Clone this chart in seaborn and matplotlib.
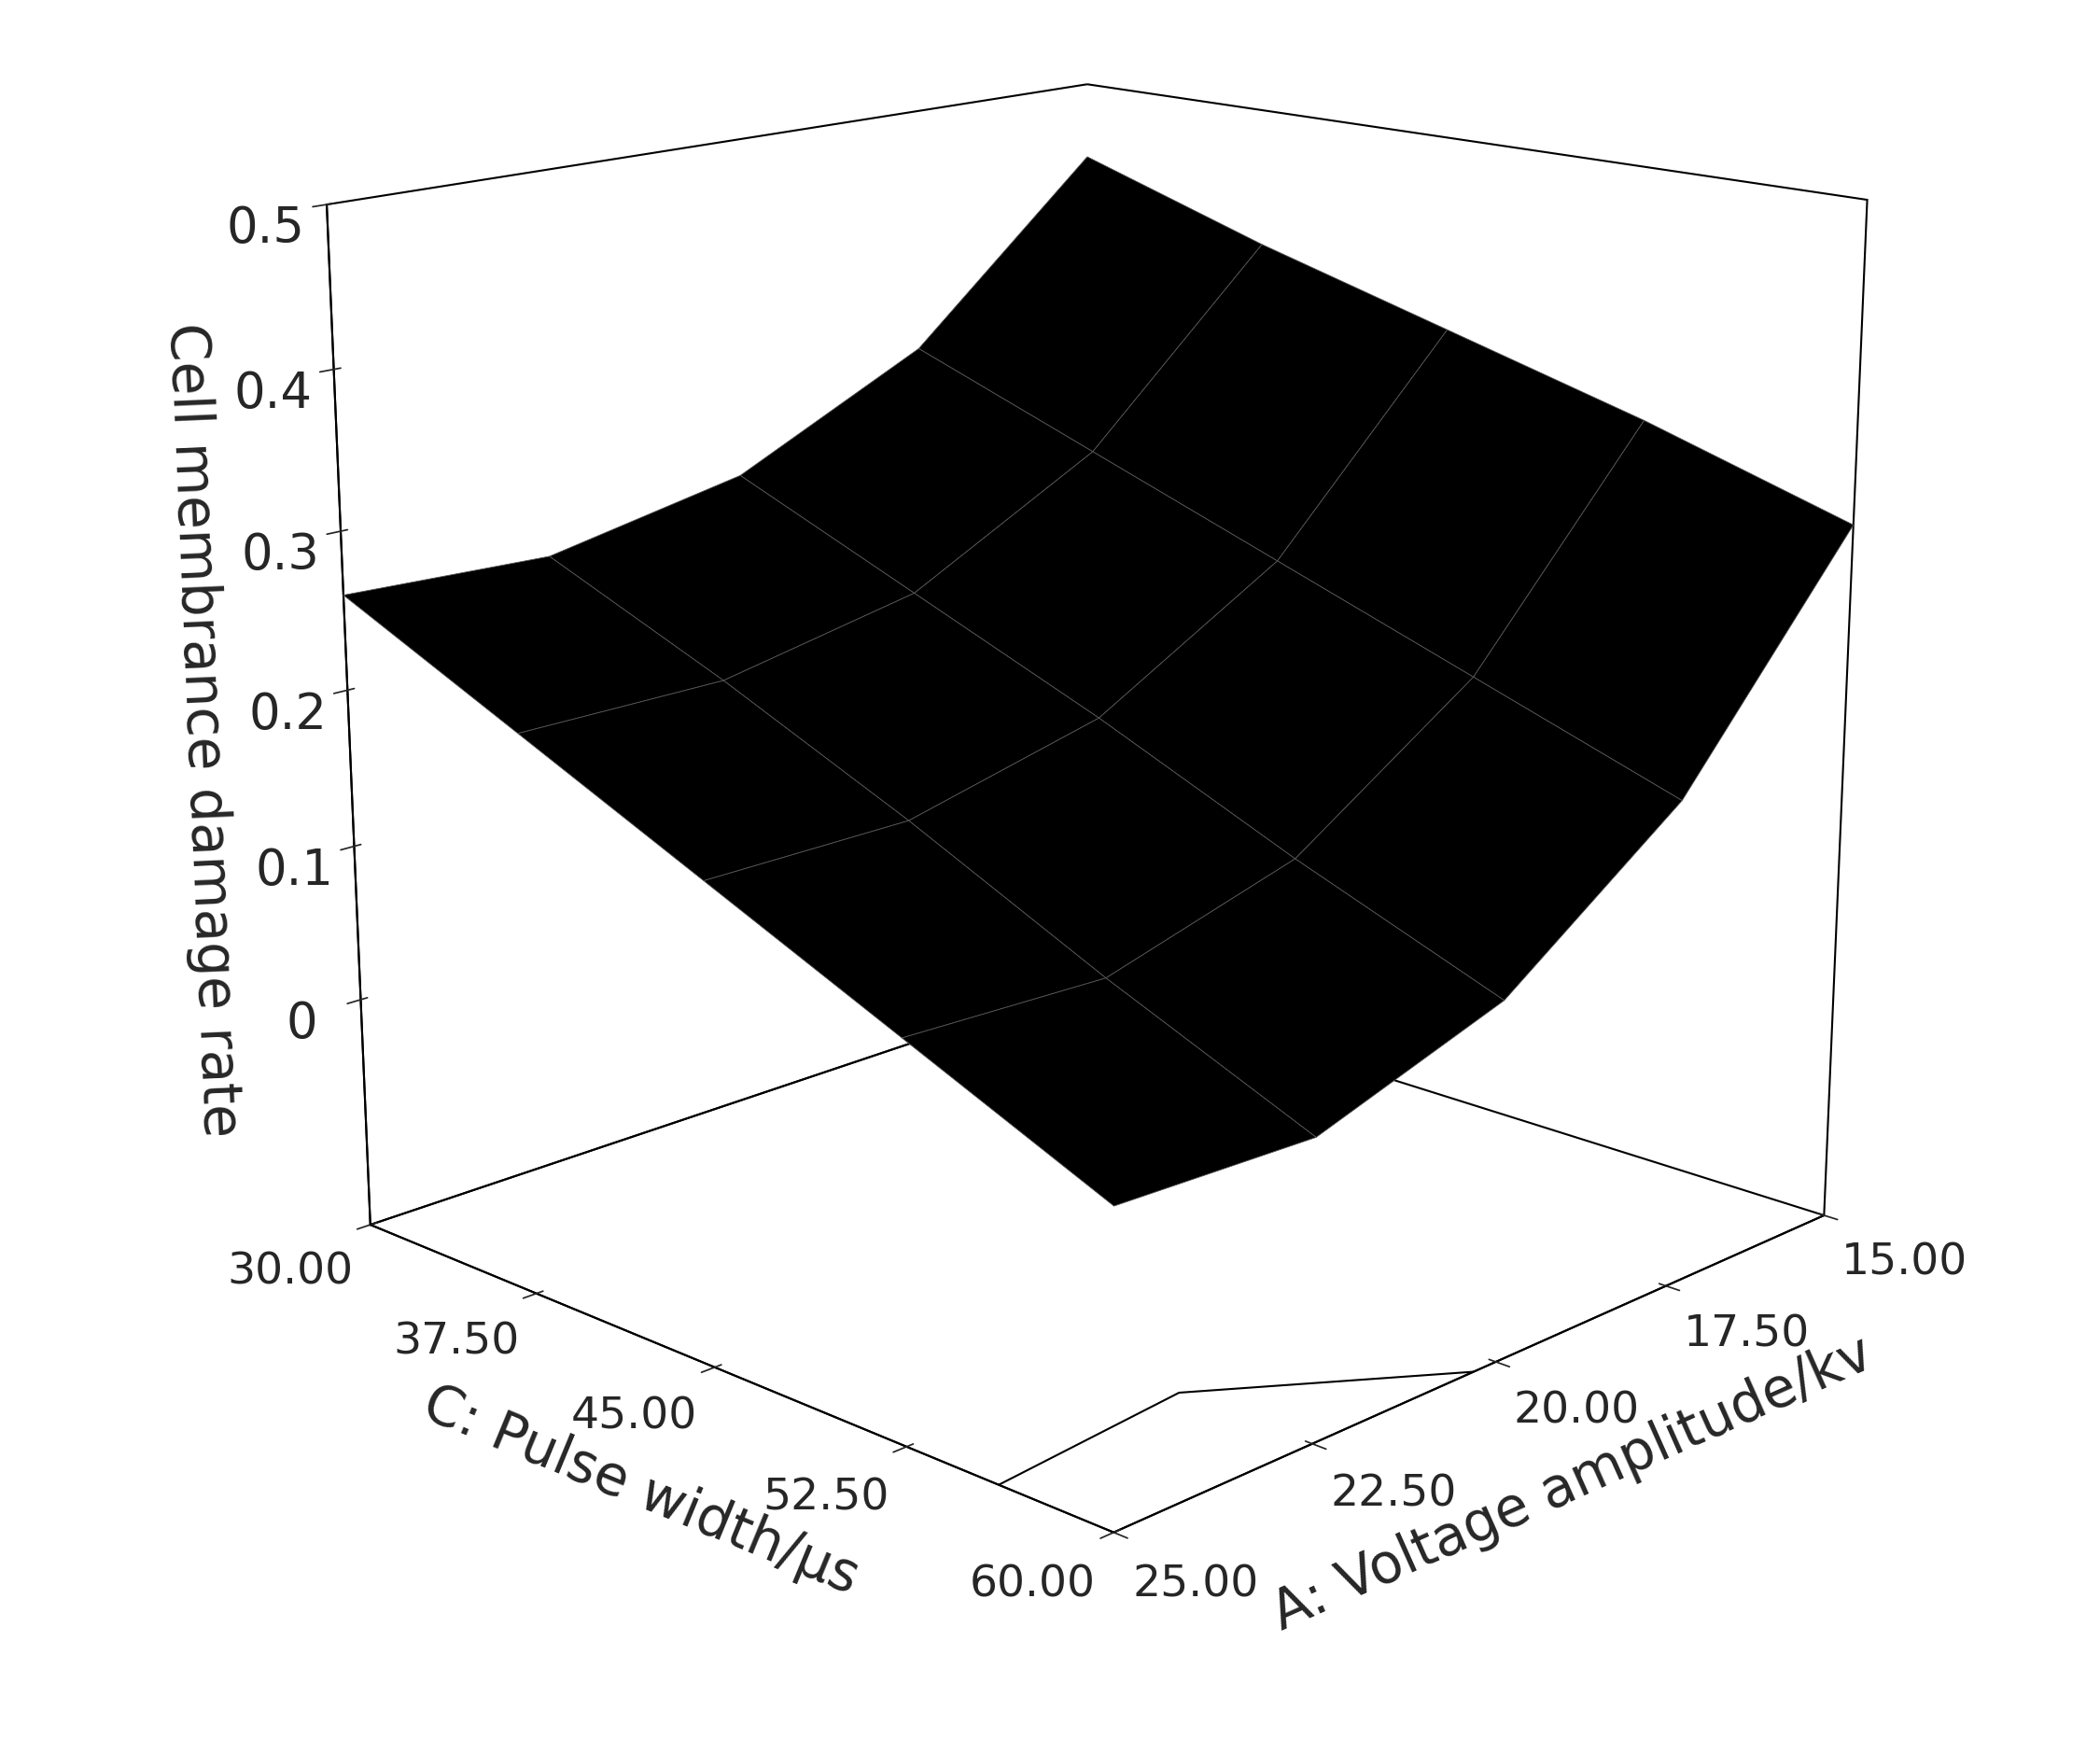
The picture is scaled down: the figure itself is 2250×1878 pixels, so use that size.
import numpy as np
import matplotlib
matplotlib.use("Agg")
import matplotlib.pyplot as plt
import seaborn as sns

sns.set_theme(style="white")
plt.rcParams['font.family'] = ['DejaVu Sans']

A_vals = [15.0, 17.5, 20.0, 22.5, 25.0]
C_vals = [30.0, 37.5, 45.0, 52.5, 60.0]
# rows: A, cols: C  (cell membrane damage rate)
Z_vals = [
    [0.45, 0.41, 0.375, 0.34, 0.30],
    [0.34, 0.295, 0.25, 0.205, 0.16],
    [0.28, 0.23, 0.18, 0.125, 0.075],
    [0.255, 0.205, 0.15, 0.09, 0.035],
    [0.26, 0.205, 0.15, 0.095, 0.04],
]
z_ticks = [0, 0.1, 0.2, 0.3, 0.4, 0.5]
z_tick_labels = ["0", "0.1", "0.2", "0.3", "0.4", "0.5"]
A_ticks = [15.0, 17.5, 20.0, 22.5, 25.0]
C_ticks = [30.0, 37.5, 45.0, 52.5, 60.0]

Ag, Cg = np.meshgrid(A_vals, C_vals, indexing="ij")
Z = np.array(Z_vals)

fig = plt.figure(figsize=(22.5, 18.78), dpi=100)
ax = fig.add_axes([-0.05, -0.02, 1.12, 1.18], projection="3d")
ax.plot_surface(Ag, Cg, Z, color="black", edgecolor="#555555", linewidth=0.6,
                shade=False, antialiased=True)
zfloor = -0.15
ax.contour(Ag, Cg, Z, levels=[0.07], zdir="z", offset=zfloor, colors="black", linewidths=1.5)

ax.set_xlim(15, 25)
ax.set_ylim(30, 60)
ax.set_zlim(zfloor, 0.5)
ax.view_init(elev=16, azim=44)
ax.set_proj_type("persp", focal_length=0.45)
ax.set_box_aspect((1, 1, 1.0), zoom=0.86)

for axis in (ax.xaxis, ax.yaxis, ax.zaxis):
    axis.pane.fill = False
    axis.pane.set_edgecolor("black")
    axis.pane.set_alpha(1)
    axis.pane.set_linewidth(1.5)
    axis.line.set_color("black")
    axis.line.set_linewidth(1.5)
ax.grid(False)

ax.set_xticks(A_ticks)
ax.set_xticklabels([f"{v:.2f}" for v in A_ticks], fontsize=34, ha="left")
ax.set_yticks(C_ticks)
ax.set_yticklabels([f"{v:.2f}" for v in C_ticks], fontsize=34, ha="right")
ax.set_zticks(z_ticks)
ax.set_zticklabels(z_tick_labels, fontsize=38, ha="center")
ax.set_xlabel("A: Voltage amplitude/kv", fontsize=42, labelpad=55)
ax.set_ylabel("C: Pulse width/μs", fontsize=42, labelpad=55)
ax.set_zlabel("Cell membrance damage rate", fontsize=42, labelpad=60)
ax.tick_params(axis="x", pad=10)
ax.tick_params(axis="y", pad=10)
ax.tick_params(axis="z", pad=25)

fig.savefig("out.png", dpi=100, facecolor="white")
